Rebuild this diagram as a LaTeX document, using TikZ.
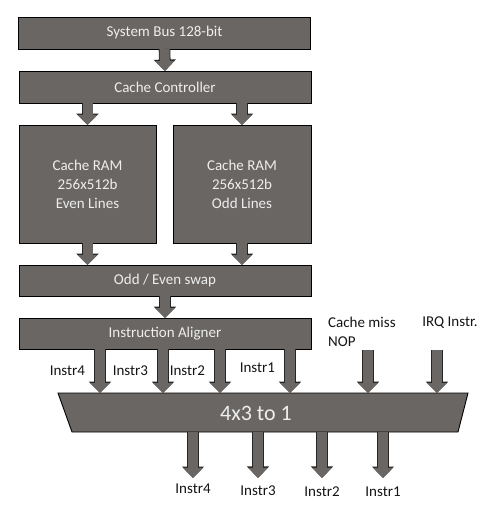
\documentclass[tikz,border=0pt]{standalone}
\usepackage{fontspec}
\setmainfont{Carlito}
\usetikzlibrary{arrows.meta,positioning}
\definecolor{blockgray}{RGB}{106,102,100}
\definecolor{blocktext}{RGB}{238,238,238}
\definecolor{labelink}{RGB}{20,20,20}

\begin{document}
\begin{tikzpicture}[x=1pt,y=-1pt,>=Latex,
  every node/.style={align=center,font=\fontsize{15}{19}\selectfont},
  block/.style={draw,line width=0.9pt,fill=blockgray,text=blocktext,inner sep=0pt,outer sep=0pt},
  wide/.style={block,minimum width=292pt,minimum height=32pt},
  ram/.style={block,minimum width=137pt,minimum height=118pt},
  flow/.style={line width=10pt,draw=blockgray,-{Triangle[width=19pt,length=10pt]},
    preaction={draw=black!85,line width=11.6pt,-{Triangle[width=21.6pt,length=11.4pt]}}},
  lbl/.style={inner sep=1pt,text=labelink}]
  \useasboundingbox (0,0) rectangle (488,513);

  % memory side
  \node[wide] (bus) at (164.5,33) {System Bus 128-bit};
  \node[wide] (ctrl) at (165,87) {Cache Controller};
  \node[ram] (rameven) at (87.5,184) {Cache RAM\\256x512b\\Even Lines};
  \node[ram,minimum width=138pt] (ramodd) at (242,184) {Cache RAM\\256x512b\\Odd Lines};
  \node[wide,minimum height=31pt] (swap) at (165,280.5) {Odd / Even swap};
  \node[wide,minimum height=31pt] (align) at (165,333.5) {Instruction Aligner};

  % selector
  \node[inner sep=0pt,outer sep=0pt,minimum width=410pt,minimum height=39pt] (mux) at (263,412.5) {};
  \draw[line width=0.9pt,fill=blockgray] (mux.north west) -- (mux.north east)
    -- ([xshift=-10pt]mux.south east) -- ([xshift=14pt]mux.south west) -- cycle;
  \node[text=blocktext,font=\fontsize{22}{26}\selectfont] (muxtxt) at (256,413) {4x3 to 1};

  \draw[flow] (bus.south) -- (ctrl.north);
  \draw[flow] (ctrl.south -| rameven) -- (rameven.north);
  \draw[flow] (ctrl.south -| ramodd) -- (ramodd.north);
  \draw[flow] (rameven.south) -- (swap.north -| rameven);
  \draw[flow] (ramodd.south) -- (swap.north -| ramodd);
  \draw[flow] (swap.south) -- (align.north);

  % aligned instructions into the selector
  \coordinate (a4) at (100,349);
  \coordinate (a3) at (163,349);
  \coordinate (a2) at (220,349);
  \coordinate (a1) at (290,349);
  \draw[flow] (align.south -| a4) -- (mux.north -| a4) node[lbl,midway,left=9pt] (l4) {Instr4};
  \draw[flow] (align.south -| a3) -- (mux.north -| a3) node[lbl,midway,left=9pt] (l3) {Instr3};
  \draw[flow] (align.south -| a2) -- (mux.north -| a2) node[lbl,midway,left=9pt] (l2) {Instr2};
  \draw[flow] (align.south -| a1) -- (mux.north -| a1) node[lbl,pos=0.43,left=9pt] (l1) {Instr1};

  \node[lbl,align=left,anchor=west] (lmiss) at (327,332) {Cache miss\\NOP};
  \node[lbl] (lirq) at (450,323) {IRQ Instr.};
  \coordinate (miss) at (368,350);
  \coordinate (irq) at (437,350);
  \draw[flow] (miss) -- (mux.north -| miss);
  \draw[flow] (irq) -- (mux.north -| irq);

  % outputs
  \node[lbl] (o4) at (193,489) {Instr4};
  \node[lbl] (o3) at (258,491) {Instr3};
  \node[lbl] (o2) at (322,492) {Instr2};
  \node[lbl] (o1) at (383,492) {Instr1};
  \draw[flow,shorten >=5pt] (mux.south -| o4) -- (o4.north);
  \draw[flow,shorten >=7pt] (mux.south -| o3) -- (o3.north);
  \draw[flow,shorten >=8pt] (mux.south -| o2) -- (o2.north);
  \draw[flow,shorten >=8pt] (mux.south -| o1) -- (o1.north);
\end{tikzpicture}
\end{document}
